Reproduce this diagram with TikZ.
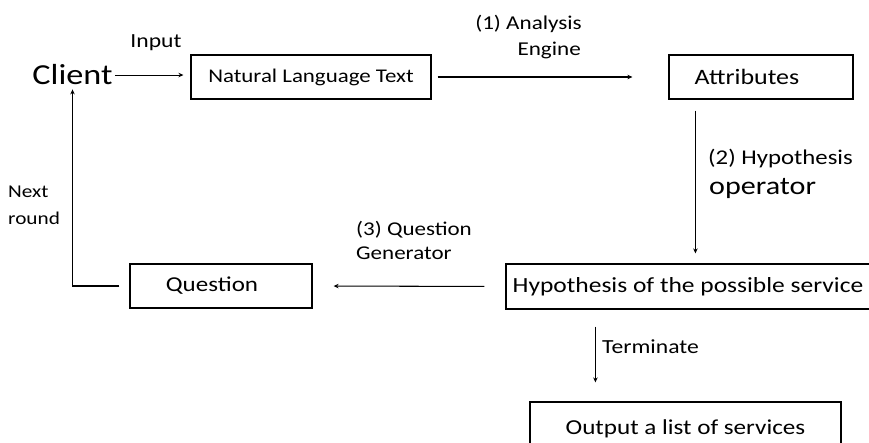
\documentclass[tikz,border=0pt]{standalone}
\usepackage{fontspec}
\setmainfont{Carlito}[FakeStretch=1.18]
\usetikzlibrary{arrows.meta}
\newcommand{\fs}[1]{\fontsize{#1}{#1}\selectfont}
\begin{document}
\begin{tikzpicture}[x=1pt,y=-1pt,
  box/.style={draw,line width=1.2pt,inner sep=0pt},
  lbl/.style={inner sep=0pt},
  arr/.style={line width=1.05pt,-{Stealth[length=5pt,width=4.5pt]}}]
\useasboundingbox (0,0) rectangle (869,443);
\clip (0,0) rectangle (869,443);
\fill[white] (0,0) rectangle (869,443);
% nodes
\node[lbl,anchor=base,font=\fs{29}] (client) at (72.5,85) {Client};
\node[box,minimum width=240pt,minimum height=44pt,font=\fs{19.4}] (nlt) at (311,77) {Natural Language Text};
\node[box,minimum width=184pt,minimum height=44pt] (attr) at (761,77) {};
\node[lbl,font=\fs{22}] (attrt) at (747,77) {Attributes};
\node[box,minimum width=364pt,minimum height=45pt,font=\fs{21.6}] (hyp) at (688,286.5) {Hypothesis of the possible service};
\node[box,minimum width=182pt,minimum height=44pt] (q) at (221,286) {};
\node[lbl,font=\fs{21.2}] (qt) at (212,286) {Question};
\node[box,minimum width=311pt,minimum height=53pt,font=\fs{21.3}] (out) at (685.5,428.5) {Output a list of services};
% labels
\node[lbl,anchor=base,font=\fs{20}] (input) at (156,48) {Input};
\node[lbl,anchor=base east,font=\fs{19.6}] (l1a) at (582,30) {(1) Analysis};
\node[lbl,anchor=base east,font=\fs{19.6}] (l1b) at (581,56) {Engine};
\node[lbl,anchor=base west,font=\fs{21}] (l2a) at (708,165) {(2) Hypothesis};
\node[lbl,anchor=base west,font=\fs{25.5}] (l2b) at (709,195) {operator};
\node[lbl,anchor=base west,font=\fs{19.5}] (l3a) at (356,236) {(3) Question};
\node[lbl,anchor=base west,font=\fs{19.5}] (l3b) at (356,260) {Generator};
\node[lbl,anchor=base west,font=\fs{18}] (n1) at (8,198) {Next};
\node[lbl,anchor=base west,font=\fs{18}] (n2) at (8,225) {round};
\node[lbl,anchor=base west,font=\fs{20}] (term) at (602,353) {Terminate};
% connectors
\draw[arr,shorten <=2pt,shorten >=7pt] (client.east) -- (client.east -| nlt.west);
\draw[arr,shorten <=6pt,shorten >=36pt] (nlt.east) -- (attr.west);
\coordinate (c1) at ([xshift=27pt]attr.south west);
\draw[arr,shorten <=11pt,shorten >=10pt] (c1) -- (c1 |- hyp.north);
\draw[arr,shorten <=21pt,shorten >=21pt] (hyp.west) -- (q.east);
\coordinate (c2) at ([xshift=90pt]hyp.south west);
\draw[arr,shorten <=17pt,shorten >=19pt] (c2) -- (c2 |- out.north);
\draw[arr,shorten <=10pt,shorten >=4pt] (q.west) -| (client.south);
\end{tikzpicture}
\end{document}
